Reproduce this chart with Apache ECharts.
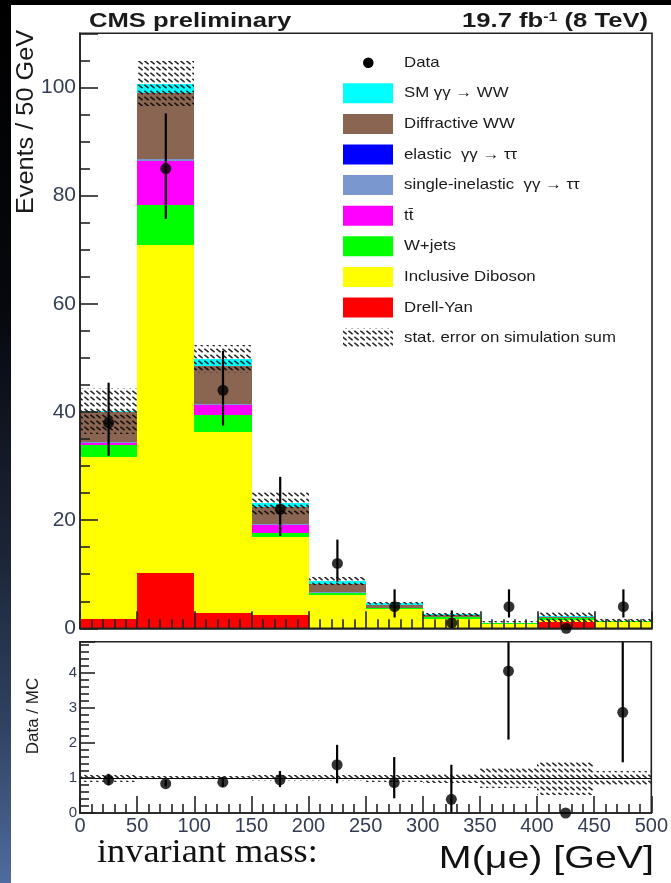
<!DOCTYPE html>
<html>
<head>
<meta charset="utf-8">
<script src="https://cdn.jsdelivr.net/npm/echarts@6/dist/echarts.min.js"></script>
<style>
  html, body { margin: 0; padding: 0; background: #000; }
  #frame {
    position: relative; width: 671px; height: 883px; overflow: hidden;
    background: linear-gradient(to bottom, #000 0%, #06080d 35%, #1b2436 62%, #2f4262 82%, #4e6c9e 100%);
  }
  #paper { position: absolute; left: 11px; top: 5px; right: 0; bottom: 0; background: #fff; }
  #chart { position: absolute; left: 0; top: 0; width: 671px; height: 883px; }
</style>
</head>
<body>
<div id="frame"><div id="paper"></div><div id="chart"></div></div>
<script>
// Invariant mass bins, 50 GeV wide
const binEdges   = [0, 50, 100, 150, 200, 250, 300, 350, 400, 450, 500];
const binCenters = [25, 75, 125, 175, 225, 275, 325, 375, 425, 475];

// Simulated contributions per bin (events)
const drellYan      = [1.8, 10.2, 2.8, 2.4, 0, 0, 0, 0, 1.2, 0];
const diboson       = [29.9, 60.7, 33.4, 14.5, 6.1, 3.5, 1.8, 0.72, 0.4, 1.2];
const wJets         = [2.2, 7.4, 3.2, 0.7, 0.4, 0.3, 0.3, 0.18, 0.3, 0.1];
const ttbar         = [0.4, 8.1, 1.9, 1.5, 0.1, 0, 0, 0, 0, 0];
const singleInelTau = [0.1, 0.3, 0.1, 0.1, 0.05, 0, 0, 0, 0, 0];
const elasticTau    = [0.05, 0.1, 0.05, 0.05, 0, 0, 0, 0, 0, 0];
const diffractiveWW = [5.45, 12.2, 6.95, 3.25, 1.45, 0.5, 0.3, 0.05, 0.1, 0.05];
const smGammaWW     = [0.3, 1.7, 1.4, 0.6, 0.6, 0.3, 0.2, 0.05, 0.2, 0.05];
// Statistical uncertainty on the simulation sum
const mcStatError   = [4.2, 4.2, 2.6, 2.1, 0.7, 0.3, 0.3, 0.28, 1.0, 0.28];

// Observed events with Poisson error bars
const dataEvents  = [38, 85, 44, 22, 12, 4, 1, 4, 0, 4];
const dataErrLow  = [31.9, 75.7, 37.5, 17.1, 8.6, 2.0, 0, 2.0, 0, 2.0];
const dataErrHigh = [45.4, 95.2, 51.3, 28.0, 16.4, 7.2, 3.3, 7.2, 0, 7.2];

// Data / MC ratio panel
const ratioValues  = [0.95, 0.84, 0.88, 0.95, 1.38, 0.87, 0.39, 4.06, 0, 2.88];
const ratioErrLow  = [0.79, 0.76, 0.75, 0.74, 0.85, 0.42, 0, 2.1, 0, 1.45];
const ratioErrHigh = [1.12, 0.94, 1.03, 1.2, 1.95, 1.6, 1.38, 7.3, 0, 5.2];
const ratioBand    = [0.1, 0.06, 0.06, 0.09, 0.08, 0.1, 0.15, 0.28, 0.48, 0.2];

// Axis tick labels
const massTicks   = [0, 50, 100, 150, 200, 250, 300, 350, 400, 450, 500];
const eventTicks  = [0, 20, 40, 60, 80, 100];
const ratioTicks  = [0, 1, 2, 3, 4];

const processes = [
  { name: 'Drell-Yan',                  values: drellYan,      color: '#ff0000' },
  { name: 'Inclusive Diboson',          values: diboson,       color: '#ffff00' },
  { name: 'W+jets',                     values: wJets,         color: '#00ff00' },
  { name: 'tt\u0304',                   values: ttbar,         color: '#ff00ff' },
  { name: 'single-inelastic  \u03b3\u03b3 \u2192 \u03c4\u03c4', values: singleInelTau, color: '#7b97cf' },
  { name: 'elastic  \u03b3\u03b3 \u2192 \u03c4\u03c4',          values: elasticTau,    color: '#0000ff' },
  { name: 'Diffractive WW',             values: diffractiveWW, color: '#8a6552' },
  { name: 'SM \u03b3\u03b3 \u2192 WW',  values: smGammaWW,     color: '#00ffff' }
];

const SANS = '"Liberation Sans", Arial, sans-serif';
const SERIF = '"Liberation Serif", "Times New Roman", serif';
const LABEL = '#353d55';

// Hatch tile used for the statistical error bands
function hatchTile() {
  const c = document.createElement('canvas');
  c.width = 6; c.height = 6;
  const g = c.getContext('2d');
  g.strokeStyle = 'rgba(0,0,0,0.85)';
  g.lineWidth = 1.5;
  g.lineCap = 'round';
  g.beginPath();
  g.moveTo(0.8, 1.2);
  g.lineTo(4.2, 3.8);
  g.stroke();
  return c;
}
const hatch = { image: hatchTile(), repeat: 'repeat' };

// Rectangle spanning [x0,x1] x [y0,y1] in data space
function rectRenderer(fill) {
  return function (params, api) {
    const a = api.coord([api.value(0), api.value(2)]);
    const b = api.coord([api.value(1), api.value(3)]);
    const x0 = Math.round(a[0]), x1 = Math.round(b[0]);
    const y0 = Math.round(a[1]), y1 = Math.round(b[1]);
    if (y0 === y1) return { type: 'group', children: [] };
    return {
      type: 'rect',
      shape: { x: x0, y: Math.min(y0, y1), width: x1 - x0, height: Math.abs(y0 - y1) },
      style: { fill: fill }
    };
  };
}

// Vertical error bar from value(1) to value(2) at x = value(0)
function errorRenderer(params, api) {
  const lo = api.coord([api.value(0), api.value(1)]);
  const hi = api.coord([api.value(0), api.value(2)]);
  const top = Math.max(hi[1], params.coordSys.y);
  const bottom = Math.min(lo[1], params.coordSys.y + params.coordSys.height);
  if (bottom <= top) return { type: 'group', children: [] };
  return {
    type: 'line',
    shape: { x1: lo[0], y1: bottom, x2: lo[0], y2: top },
    style: { stroke: '#000', lineWidth: 2.2 }
  };
}

const series = [];
const base = binCenters.map(() => 0);
processes.forEach((p) => {
  const data = p.values.map((v, i) => [binEdges[i], binEdges[i + 1], base[i], base[i] + v]);
  p.values.forEach((v, i) => { base[i] += v; });
  series.push({
    type: 'custom', name: p.name, xAxisIndex: 0, yAxisIndex: 0, z: 2,
    data: data, encode: { x: [0, 1], y: [2, 3] },
    renderItem: rectRenderer(p.color)
  });
});
const mcTotal = base.slice();

series.push({
  type: 'custom', name: 'stat. error on simulation sum', xAxisIndex: 0, yAxisIndex: 0, z: 3,
  data: mcTotal.map((t, i) => [binEdges[i], binEdges[i + 1], t - mcStatError[i], t + mcStatError[i]]),
  encode: { x: [0, 1], y: [2, 3] },
  renderItem: rectRenderer(hatch)
});
series.push({
  type: 'custom', name: 'Data errors', xAxisIndex: 0, yAxisIndex: 0, z: 4,
  data: binCenters.map((x, i) => [x, dataErrLow[i], dataErrHigh[i]]),
  encode: { x: 0, y: [1, 2] },
  renderItem: errorRenderer
});
series.push({
  type: 'scatter', name: 'Data', xAxisIndex: 0, yAxisIndex: 0, z: 12, clip: false,
  symbol: 'circle', symbolSize: 11, itemStyle: { color: '#000' },
  data: binCenters.map((x, i) => [x, dataEvents[i]])
});

// Ratio panel
series.push({
  type: 'custom', name: 'ratio band', xAxisIndex: 1, yAxisIndex: 1, z: 3,
  data: ratioBand.map((e, i) => [binEdges[i], binEdges[i + 1], 1 - e, 1 + e]),
  encode: { x: [0, 1], y: [2, 3] },
  renderItem: rectRenderer(hatch),
  markLine: {
    silent: true, symbol: 'none', label: { show: false },
    lineStyle: { color: '#000', width: 1.2, type: 'solid' },
    data: [{ yAxis: 1 }]
  }
});
series.push({
  type: 'custom', name: 'ratio errors', xAxisIndex: 1, yAxisIndex: 1, z: 4,
  data: binCenters.map((x, i) => [x, ratioErrLow[i], ratioErrHigh[i]]),
  encode: { x: 0, y: [1, 2] },
  renderItem: errorRenderer
});
series.push({
  type: 'scatter', name: 'ratio', xAxisIndex: 1, yAxisIndex: 1, z: 12, clip: false,
  symbol: 'circle', symbolSize: 11, itemStyle: { color: '#000' },
  data: binCenters.map((x, i) => [x, ratioValues[i]])
});

// Legend drawn as graphic rows
const legendX = 343, legendTextX = 404, legendTop = 62.7, legendStep = 30.6;
const legendItems = [{ name: 'Data', kind: 'marker' }]
  .concat(processes.slice().reverse().map((p) => ({ name: p.name, kind: 'box', fill: p.color })))
  .concat([{ name: 'stat. error on simulation sum', kind: 'box', fill: hatch }]);
const legendGraphics = [];
legendItems.forEach((item, k) => {
  const cy = legendTop + k * legendStep;
  if (item.kind === 'marker') {
    legendGraphics.push({ type: 'circle', shape: { cx: 368.3, cy: cy, r: 5.3 }, style: { fill: '#000' }, z: 20 });
  } else {
    legendGraphics.push({ type: 'rect', shape: { x: legendX, y: cy - 10, width: 50, height: 20 }, style: { fill: item.fill }, z: 20 });
  }
  legendGraphics.push({
    type: 'text', x: legendTextX, y: cy, scaleX: 1.12, z: 20,
    style: { text: item.name, font: '15px ' + SANS, fill: '#1a1a1a', textVerticalAlign: 'middle' }
  });
});

const textGraphics = [
  { type: 'text', x: 89, y: 21, scaleX: 1.22, z: 20,
    style: { text: 'CMS preliminary', font: 'bold 21px ' + SANS, fill: '#1a1a1a', textVerticalAlign: 'middle' } },
  { type: 'text', x: 648, y: 21, scaleX: 1.22, z: 20,
    style: { text: '19.7 fb{s|-1} (8 TeV)', font: 'bold 21px ' + SANS, fill: '#1a1a1a',
      textAlign: 'right', textVerticalAlign: 'middle',
      rich: { s: { font: 'bold 13px ' + SANS, fill: '#1a1a1a', verticalAlign: 'top' } } } },
  { type: 'text', x: 27, y: 122, rotation: Math.PI / 2, scaleX: 1.1, z: 20,
    style: { text: 'Events / 50 GeV', font: '23px ' + SANS, fill: '#1a1a1a', textAlign: 'center', textVerticalAlign: 'middle' } },
  { type: 'text', x: 33, y: 716, rotation: Math.PI / 2, z: 20,
    style: { text: 'Data / MC', font: '17px ' + SANS, fill: '#1a1a1a', textAlign: 'center', textVerticalAlign: 'middle' } },
  { type: 'text', x: 97, y: 870, scaleX: 1.1, z: 20,
    style: { text: 'invariant mass:', font: '33px ' + SERIF, fill: '#111', textVerticalAlign: 'bottom' } },
  { type: 'text', x: 654, y: 875, scaleX: 1.23, z: 20,
    style: { text: 'M(\u03bce) [GeV]', font: '32px ' + SANS, fill: '#111', textAlign: 'right', textVerticalAlign: 'bottom' } }
];

const axisLine = { show: true, lineStyle: { color: '#222', width: 1.6 } };
function xAxisCfg(idx, showLabels) {
  return {
    type: 'value', gridIndex: idx, min: massTicks[0], max: massTicks[massTicks.length - 1],
    interval: massTicks[1] - massTicks[0], z: 10,
    axisLine: axisLine,
    axisTick: { show: true, inside: true, length: 17, lineStyle: { color: '#222', width: 1.6 } },
    minorTick: { show: true, splitNumber: 5, length: 9, lineStyle: { color: '#222', width: 1.6 } },
    splitLine: { show: false },
    axisLabel: { show: showLabels, fontFamily: SANS, fontSize: 20, color: LABEL, margin: 3,
      showMinLabel: true, showMaxLabel: true }
  };
}

const chart = echarts.init(document.getElementById('chart'), null, { renderer: 'canvas' });
chart.setOption({
  backgroundColor: 'transparent',
  animation: false,
  grid: [
    { left: 80, top: 33.3, width: 572, height: 595, show: true, borderColor: '#222', borderWidth: 1.6, z: 10 },
    { left: 80, top: 641.7, width: 572, height: 171.3, show: true, borderColor: '#222', borderWidth: 1.6, z: 10 }
  ],
  xAxis: [xAxisCfg(0, false), xAxisCfg(1, true)],
  yAxis: [
    {
      type: 'value', gridIndex: 0, min: eventTicks[0], max: 110,
      interval: eventTicks[1] - eventTicks[0], z: 10,
      axisLine: axisLine,
      axisTick: { show: true, inside: true, length: 18, lineStyle: { color: '#222', width: 1.6 } },
      minorTick: { show: true, splitNumber: 4, length: 10, lineStyle: { color: '#222', width: 1.6 } },
      splitLine: { show: false },
      axisLabel: { fontFamily: SANS, fontSize: 21, color: LABEL, margin: 4, showMaxLabel: false,
        formatter: (v) => (eventTicks.indexOf(v) >= 0 ? String(v) : '') }
    },
    {
      type: 'value', gridIndex: 1, min: ratioTicks[0], max: 4.9,
      interval: ratioTicks[1] - ratioTicks[0], z: 10,
      axisLine: axisLine,
      axisTick: { show: true, inside: true, length: 15, lineStyle: { color: '#222', width: 1.6 } },
      minorTick: { show: true, splitNumber: 5, length: 9, lineStyle: { color: '#222', width: 1.6 } },
      splitLine: { show: false },
      axisLabel: { fontFamily: SANS, fontSize: 15, color: LABEL, margin: 3, showMaxLabel: false,
        formatter: (v) => (ratioTicks.indexOf(v) >= 0 ? String(v) : '') }
    }
  ],
  series: series,
  graphic: legendGraphics.concat(textGraphics)
});
</script>
</body>
</html>
